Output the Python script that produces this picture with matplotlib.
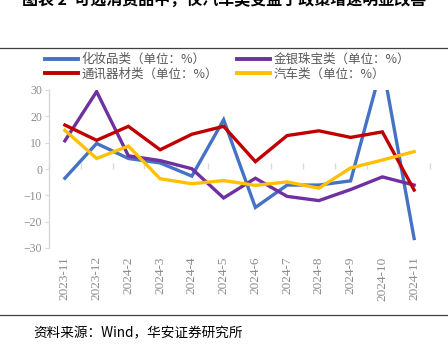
import matplotlib.pyplot as plt
from matplotlib.lines import Line2D

plt.rcParams['font.family'] = ['Noto Sans CJK SC', 'DejaVu Sans']

months = ['2023-11', '2023-12', '2024-2', '2024-3', '2024-4', '2024-5',
          '2024-6', '2024-7', '2024-8', '2024-9', '2024-10', '2024-11']
cosmetics = [-3.5, 9.7, 4.0, 2.3, -2.7, 18.7, -14.6, -6.1, -6.1, -4.5, 40.1, -26.4]
jewelry = [10.7, 29.4, 5.0, 3.2, 0.1, -11.0, -3.5, -10.4, -12.0, -7.8, -3.0, -6.1]
telecom = [16.7, 10.9, 16.2, 7.3, 13.2, 16.2, 2.8, 12.7, 14.5, 12.0, 14.1, -8.0]
autos = [14.7, 4.0, 8.7, -3.7, -5.6, -4.4, -6.2, -4.9, -7.3, 0.4, 3.4, 6.6]

series = [
    ('化妆品类（单位：%）', cosmetics, '#4472C4'),
    ('通讯器材类（单位：%）', telecom, '#C00000'),
    ('金银珠宝类（单位：%）', jewelry, '#7030A0'),
    ('汽车类（单位：%）', autos, '#FFC000'),
]
draw_order = [0, 2, 1, 3]

gray = '#D9D9D9'
tick_gray = '#8C8C8C'

fig = plt.figure(figsize=(4.48, 3.52), dpi=100)
ax = fig.add_axes([49 / 448, 1 - 248 / 352, 381 / 448, 158 / 352])

x = list(range(len(months)))
for i in draw_order:
    name, vals, col = series[i]
    ax.plot(x, vals, color=col, lw=2.4, solid_joinstyle='miter')

ax.set_xlim(-0.5, len(months) - 0.5)
ax.set_ylim(-30, 30)
ax.set_yticks([-30, -20, -10, 0, 10, 20, 30])
ax.set_xticks(x)
ax.set_xticklabels(months, rotation=90, fontsize=9.5, color=tick_gray,
                   family=['Liberation Serif'])
ax.tick_params(axis='x', length=0, pad=6)
ax.tick_params(axis='y', length=3, color=gray, labelsize=8.5,
               labelcolor=tick_gray, pad=2)
for lab in ax.get_yticklabels():
    lab.set_family(['Liberation Serif'])
for s in ['top', 'right', 'bottom']:
    ax.spines[s].set_visible(False)
ax.spines['left'].set_color(gray)
ax.spines['left'].set_linewidth(1)

# zero axis with category tick marks
zero = ax.secondary_xaxis(0.5)
zero.set_xticks([i - 0.5 for i in range(len(months) + 1)])
zero.set_xticklabels([])
zero.tick_params(length=4, color=gray, width=1)
zero.spines['bottom'].set_color(gray)
zero.spines['bottom'].set_linewidth(1.5)
for s in ['top', 'left', 'right']:
    zero.spines[s].set_visible(False)

handles = [Line2D([], [], color=c, lw=2.8) for _, _, c in series]
labels = [n for n, _, _ in series]
fig.legend(handles, labels, ncol=2, loc='upper left',
           bbox_to_anchor=(45 / 448, 1 - 53 / 352), frameon=False,
           fontsize=9, labelcolor='#595959', handlelength=2.6,
           handletextpad=0.35, columnspacing=1.5, labelspacing=0.12,
           borderpad=0, borderaxespad=0)

fig.text(0.5, 1.0, '图表 2  可选消费品中，仅汽车类受益于政策增速明显改善',
         ha='center', va='center', fontsize=11.5, fontweight='bold')
fig.add_artist(Line2D([0, 1], [1 - 47.5 / 352] * 2, color='#404040', lw=0.9))
fig.add_artist(Line2D([0, 1], [1 - 315 / 352] * 2, color='#404040', lw=0.9))
fig.text(33 / 448, 1 - 333 / 352, '资料来源：Wind，华安证券研究所',
         ha='left', va='center', fontsize=9.8)

fig.savefig('out.png', dpi=100)
